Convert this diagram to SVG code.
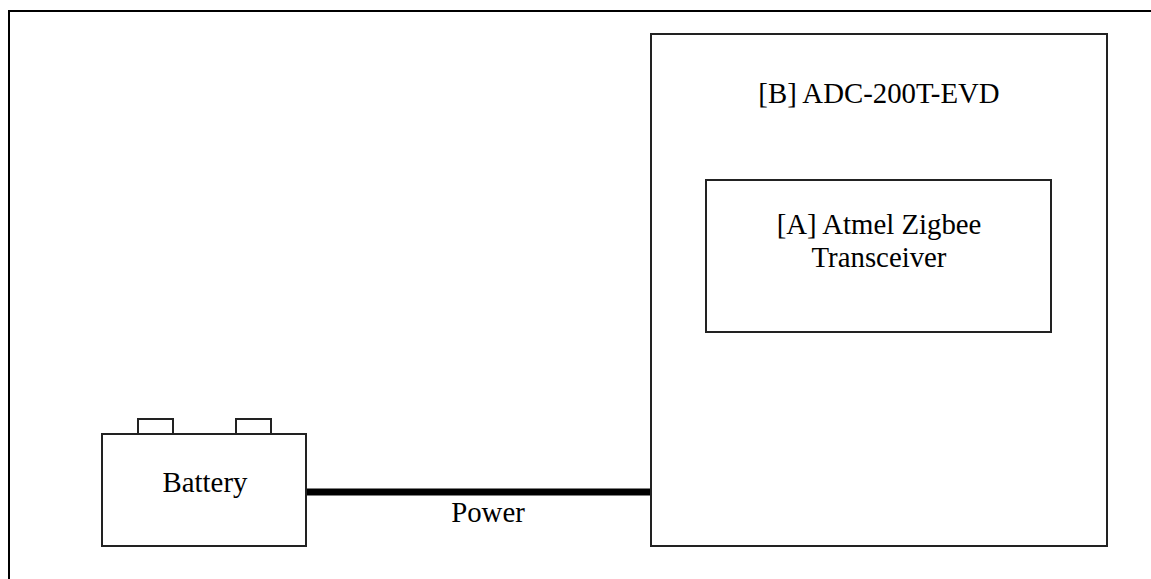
<svg xmlns="http://www.w3.org/2000/svg" width="1151" height="579" viewBox="0 0 1151 579">
<style>
.b{fill:#fff;stroke:#222;stroke-width:2}
text{font-family:"Liberation Serif","Times New Roman",serif;font-size:28.800px;fill:#000;text-anchor:middle}
</style>
<rect width="1151" height="579" fill="#fff"/>
<path d="M9 579V11H1151" fill="none" stroke="#000" stroke-width="2"/>
<g id="connectors"><line x1="306" y1="492" x2="651" y2="492" stroke="#000" stroke-width="7"/></g>
<g id="battery"><rect class="b" x="138" y="419" width="35" height="15"/><rect class="b" x="236" y="419" width="35" height="15"/><rect class="b" x="102" y="434" width="204" height="112"/><text x="205" y="492">Battery</text></g>
<g id="power-label"><text x="488" y="522">Power</text></g>
<g id="adc"><rect class="b" x="651" y="34" width="456" height="512"/><text x="879" y="103">[B] ADC-200T-EVD</text></g>
<g id="atmel"><rect class="b" x="706" y="180" width="345" height="152"/><text x="879" y="234">[A] Atmel Zigbee</text><text x="879" y="267">Transceiver</text></g>
</svg>
